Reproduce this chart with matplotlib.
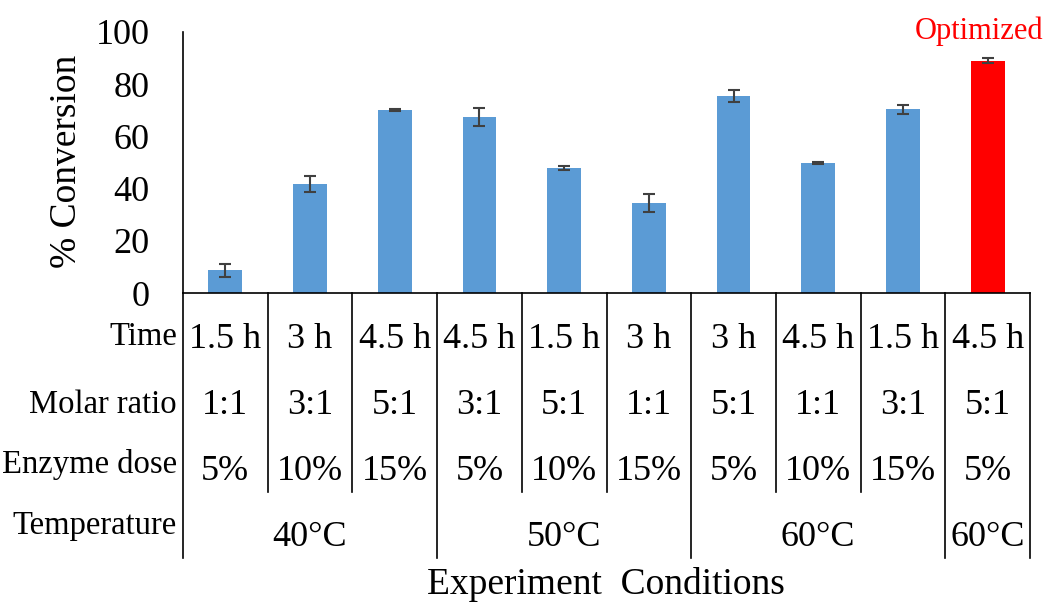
import matplotlib.pyplot as plt
from matplotlib.transforms import blended_transform_factory

# data
conversion = [8.7, 41.8, 70.1, 67.5, 47.8, 34.4, 75.4, 49.8, 70.4, 89.0]
errors = [2.5, 3.2, 0.4, 3.5, 0.7, 3.5, 2.3, 0.3, 1.8, 1.0]
times = ['1.5 h', '3 h', '4.5 h', '4.5 h', '1.5 h', '3 h', '3 h', '4.5 h', '1.5 h', '4.5 h']
ratios = ['1:1', '3:1', '5:1', '3:1', '5:1', '1:1', '5:1', '1:1', '3:1', '5:1']
doses = ['5%', '10%', '15%', '5%', '10%', '15%', '5%', '10%', '15%', '5%']
temp_labels = ['40°C', '50°C', '60°C', '60°C']
temp_groups = [(0, 2), (3, 5), (6, 8), (9, 9)]
row_labels = ['Time', 'Molar ratio', 'Enzyme dose', 'Temperature']

plt.rcParams['font.family'] = ['Liberation Serif', 'DejaVu Serif']

W, H = 1051, 603
fig = plt.figure(figsize=(W / 100, H / 100), dpi=100)
ax = fig.add_axes([183 / W, 1 - 293 / H, (1030 - 183) / W, (293 - 32) / H])

x = list(range(len(conversion)))
colors = ['#5B9BD5'] * 9 + ['#FF0000']
ax.bar(x, conversion, width=0.4, color=colors, edgecolor='none', zorder=2)
ax.errorbar(x, conversion, yerr=errors, fmt='none', ecolor='#404040',
            elinewidth=1.5, capsize=4, capthick=1.5, zorder=3)

ax.set_xlim(-0.5, 9.5)
ax.set_ylim(0, 100)
ax.set_yticks([0, 20, 40, 60, 80, 100])
ax.tick_params(axis='y', length=0, labelsize=26, pad=24)
ax.set_xticks([])
for s in ['top', 'right']:
    ax.spines[s].set_visible(False)
for s in ['left', 'bottom']:
    ax.spines[s].set_linewidth(1.2)
    ax.spines[s].set_color('black')

ax.text(8.9, 100.2, 'Optimized', color='red', fontsize=22, ha='center',
        va='center', clip_on=False)

fig.text(67 / W, 1 - 161 / H, '% Conversion', rotation=90, fontsize=27,
         ha='center', va='center')

tr = blended_transform_factory(ax.transData, fig.transFigure)


def fy(py):
    return 1 - py / H


# table below the axis
for i in range(len(x)):
    ax.text(i, fy(339), times[i], transform=tr, ha='center', va='center', fontsize=26)
    ax.text(i, fy(405), ratios[i], transform=tr, ha='center', va='center', fontsize=26)
    ax.text(i, fy(471), doses[i], transform=tr, ha='center', va='center', fontsize=26)

for (a, b), lab in zip(temp_groups, temp_labels):
    ax.text((a + b) / 2, fy(537), lab, transform=tr, ha='center', va='center', fontsize=26)

label_y = [337, 405, 464, 526]
for lab, py in zip(row_labels, label_y):
    fig.text(177 / W, fy(py), lab, ha='right', va='center', fontsize=23.5)

# vertical grid lines of the table
group_edges = [-0.5, 2.5, 5.5, 8.5, 9.5]
for k in range(11):
    xb = k - 0.5
    bottom = 558 if xb in group_edges else 492
    ax.plot([xb, xb], [fy(293), fy(bottom)], transform=tr, color='black',
            lw=1.2, clip_on=False)

fig.text(606 / W, fy(585), 'Experiment  Conditions', ha='center', va='center', fontsize=27)

fig.savefig('out.png', dpi=100)
